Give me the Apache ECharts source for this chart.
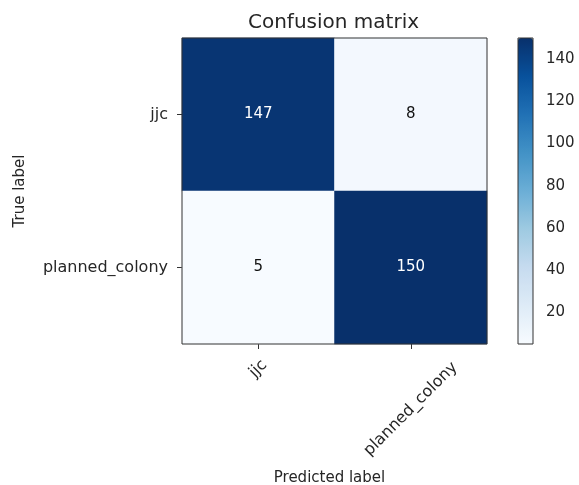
<!DOCTYPE html>
<html>
<head>
<meta charset="utf-8">
<script src="https://cdn.jsdelivr.net/npm/echarts@6/dist/echarts.min.js"></script>
<style>html,body{margin:0;padding:0;background:#fff}#c{width:579px;height:485px}</style>
</head>
<body>
<div id="c"></div>
<script>
const predictedLabels = ['jjc', 'planned_colony'];
const trueLabels = ['jjc', 'planned_colony'];
// rows = true label, columns = predicted label
const matrixRows = [
  [147, 8],
  [5, 150]
];
const colorbarTicks = [20, 40, 60, 80, 100, 120, 140];
const colorMin = 5;
const colorMax = 150;
const blues = ['#f7fbff', '#deebf7', '#c6dbef', '#9ecae1', '#6baed6', '#4292c6', '#2171b5', '#08519c', '#08306b'];

const FONT = 'DejaVu Sans';
const TXT = '#262626';
const thresh = colorMax / 2;

const heatData = [];
matrixRows.forEach((row, yi) => {
  row.forEach((v, xi) => {
    heatData.push({
      value: [xi, yi, v],
      label: { color: v > thresh ? '#ffffff' : '#111111' }
    });
  });
});

// spacing that drops each rotated label so it hangs centred under its tick (matplotlib style)
const labelDrop = { 'jjc': 35, 'planned_colony': 92 };
const xLabelStyle = { fontFamily: FONT, fontSize: 16, color: TXT, align: 'center', verticalAlign: 'top' };

const chart = echarts.init(document.getElementById('c'), null, { renderer: 'canvas' });
chart.setOption({
  animation: false,
  backgroundColor: '#ffffff',
  textStyle: { fontFamily: FONT },
  title: {
    text: 'Confusion matrix',
    left: 328.5,
    textAlign: 'center',
    top: 8,
    textStyle: { fontFamily: FONT, fontSize: 20, fontWeight: 'normal', color: TXT }
  },
  grid: [
    { left: 182, top: 38, width: 305, height: 306, show: true, borderColor: '#333', borderWidth: 1, backgroundColor: 'transparent', z: 10, outerBoundsMode: 'none' },
    { left: 518, top: 38, width: 15, height: 306, show: true, borderColor: '#333', borderWidth: 1, backgroundColor: 'transparent', z: 10, outerBoundsMode: 'none' }
  ],
  xAxis: [
    {
      type: 'category', gridIndex: 0,
      data: predictedLabels.map(s => ({
        value: s,
        textStyle: Object.assign({ lineHeight: labelDrop[s], padding: [0, labelDrop[s], 0, 0] }, xLabelStyle)
      })),
      name: 'Predicted label', nameLocation: 'middle', nameGap: 127, nameMoveOverlap: false,
      nameTextStyle: { fontFamily: FONT, fontSize: 15, color: TXT, verticalAlign: 'top', padding: [0, 10, 0, 0] },
      axisLine: { show: false },
      axisTick: { show: true, alignWithLabel: true, length: 5, lineStyle: { color: '#333' } },
      splitLine: { show: false },
      axisLabel: Object.assign({ rotate: 45, margin: 0 }, xLabelStyle)
    },
    { type: 'value', gridIndex: 1, show: false, min: 0, max: 1 }
  ],
  yAxis: [
    {
      type: 'category', gridIndex: 0, data: trueLabels, inverse: true,
      name: 'True label', nameLocation: 'middle', nameGap: 154, nameMoveOverlap: false,
      nameTextStyle: { fontFamily: FONT, fontSize: 15, color: TXT },
      axisLine: { show: false },
      axisTick: { show: true, alignWithLabel: true, length: 5, lineStyle: { color: '#333' } },
      splitLine: { show: false },
      axisLabel: { margin: 14, fontFamily: FONT, fontSize: 16, color: TXT }
    },
    {
      type: 'value', gridIndex: 1, min: colorMin, max: colorMax, position: 'right',
      axisLine: { show: false },
      splitLine: { show: false },
      axisTick: { show: true, length: 5, lineStyle: { color: '#333' }, customValues: colorbarTicks },
      axisLabel: { margin: 13, fontFamily: FONT, fontSize: 15, color: TXT, customValues: colorbarTicks }
    }
  ],
  visualMap: {
    type: 'continuous',
    min: colorMin, max: colorMax,
    calculable: false,
    orient: 'vertical',
    left: 518, top: 38,
    itemWidth: 15, itemHeight: 306,
    padding: 0,
    text: null,
    z: 1,
    seriesIndex: 0,
    inRange: { color: blues }
  },
  series: [{
    type: 'heatmap',
    xAxisIndex: 0, yAxisIndex: 0,
    data: heatData,
    itemStyle: { borderWidth: 0 },
    label: { show: true, fontFamily: FONT, fontSize: 15 },
    emphasis: { disabled: true }
  }]
});
</script>
</body>
</html>
